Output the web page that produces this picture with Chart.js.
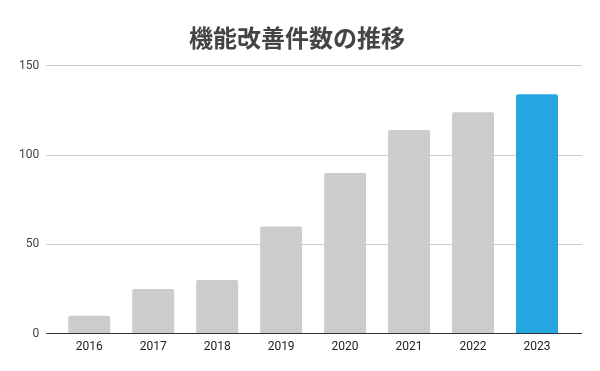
<!DOCTYPE html>
<html>
<head>
<meta charset="utf-8">
<script src="https://cdn.jsdelivr.net/npm/chart.js@4"></script>
<style>
  html, body { margin: 0; padding: 0; background: #fff; }
  #wrap { width: 600px; height: 371px; }
</style>
</head>
<body>
<div id="wrap"><canvas id="bar"></canvas></div>
<script>
/* DATA */
const years = ["2016", "2017", "2018", "2019", "2020", "2021", "2022", "2023"];
const counts = [10, 25, 30, 60, 90, 114, 124, 134];
const yTicks = [0, 50, 100, 150];
const highlightYear = "2023";

const gridColor = function (ctx) {
  return ctx.tick && ctx.tick.value === 0 ? "#333333" : "#cccccc";
};

/* BAR CHART */
const barCtx = document.getElementById("bar");
new Chart(barCtx, {
  type: "bar",
  data: {
    labels: years,
    datasets: [{
      data: counts,
      backgroundColor: years.map(y => y === highlightYear ? "#25a6e0" : "#cccccc"),
      barPercentage: 0.656,
      categoryPercentage: 1,
      borderRadius: { topLeft: 2, topRight: 2 },
      borderSkipped: "bottom"
    }]
  },

  options: {
    responsive: true,
    maintainAspectRatio: false,
    animation: false,
    layout: {
      padding: { left: 12, right: 18, top: 0, bottom: 11 }
    },
    scales: {
      x: {
        grid: {
          display: false,
          drawTicks: false
        },
        border: { display: false },
        ticks: {
          padding: 6,
          color: "#222222",
          font: { family: "Roboto", size: 12 }
        }
      },
      y: {
        min: yTicks[0],
        max: yTicks[yTicks.length - 1],
        afterBuildTicks: function (scale) {
          scale.ticks = yTicks.map(v => ({ value: v }));
        },
        grid: {
          color: gridColor,
          tickLength: 11
        },
        border: { display: false },
        ticks: {
          padding: 7,
          color: "#444444",
          font: { family: "Roboto", size: 12 }
        }
      },
      yRight: {
        position: "right",
        min: yTicks[0],
        max: yTicks[yTicks.length - 1],
        afterBuildTicks: function (scale) {
          scale.ticks = yTicks.map(v => ({ value: v }));
        },
        grid: {
          color: gridColor,
          drawOnChartArea: false,
          tickLength: 13
        },
        border: { display: false },
        ticks: { display: false }
      }
    },
    plugins: {
      title: {
        display: true,
        text: "機能改善件数の推移",
        color: "#444444",
        padding: { top: 23, bottom: 14 },
        font: {
          family: "'Noto Sans CJK JP'",
          size: 24,
          weight: "bold",
          lineHeight: 1.2
        }
      },
      legend: {
        display: false
      },
      tooltip: {
        enabled: false
      }
    }
  }
});
</script>
</body>
</html>
